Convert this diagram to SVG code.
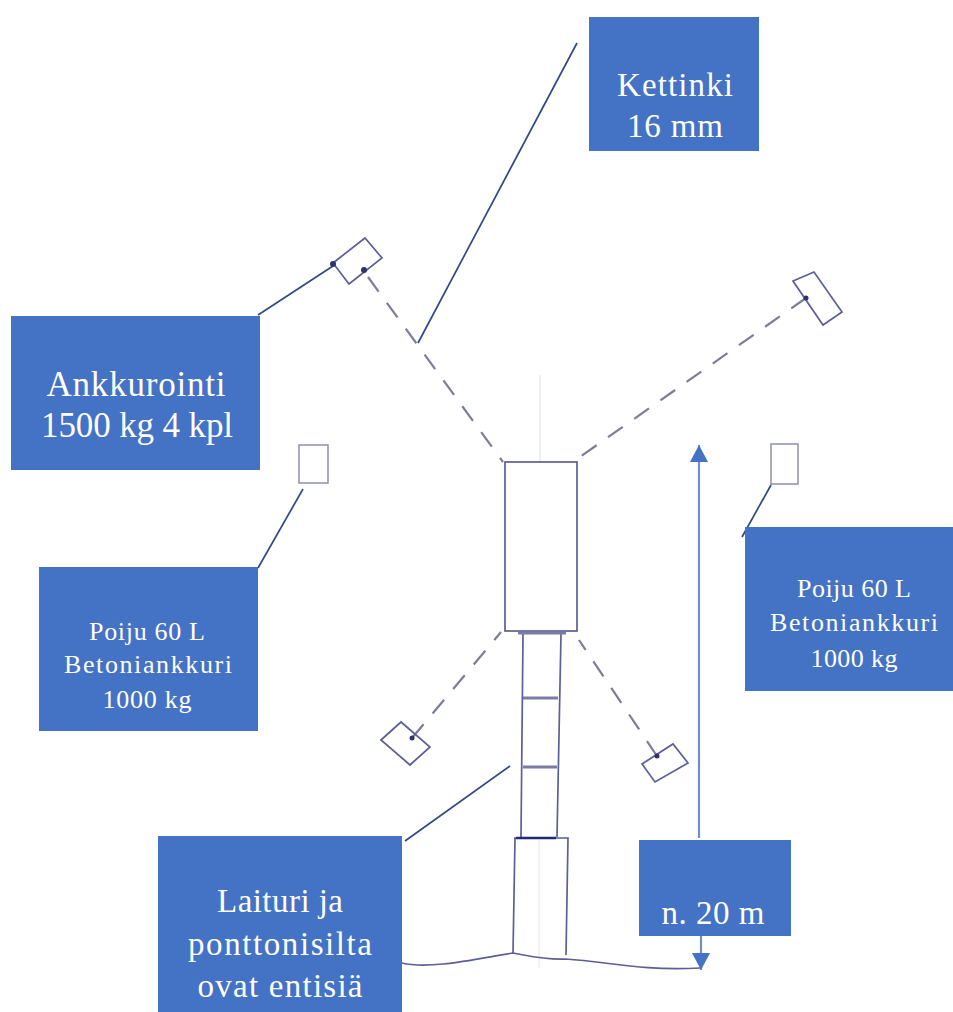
<svg xmlns="http://www.w3.org/2000/svg" width="953" height="1012" viewBox="0 0 953 1012">
<style>
.box{fill:#4472c4}
.t{font-family:"Liberation Serif",serif;fill:#fff;text-anchor:middle}
.sk{fill:none;stroke:#5c5e98;stroke-width:1.7;filter:url(#soft)}
.lt{fill:none;stroke:#8c8eb4;stroke-width:1.5;filter:url(#soft)}
.bar{fill:none;stroke:#7a7ca6;stroke-width:3;filter:url(#soft)}
.ds{fill:none;stroke:#7c7e98;stroke-width:2.2;stroke-dasharray:18 14;filter:url(#soft)}
.ld{fill:none;stroke:#2f4a85;stroke-width:1.7}
.dot{fill:#2f3170}
.ga{fill:none;stroke:#e2e2ea;stroke-width:1}
.ar{fill:none;stroke:#6f8fd0;stroke-width:2.2;marker-end:url(#ah)}
</style>
<defs>
<filter id="soft" x="-20%" y="-20%" width="140%" height="140%"><feGaussianBlur stdDeviation="0.45"/></filter>
<marker id="ah" markerWidth="18" markerHeight="18" refX="17" refY="9" orient="auto" markerUnits="userSpaceOnUse"><path d="M0 0L17 9L0 18Z" fill="#4472c4"/></marker>
</defs>
<rect width="953" height="1012" fill="#fff"/>
<g id="connectors">
<path class="ga" d="M540 375V462M539 840V968"/>
<path class="ds" d="M368 277L503 462"/>
<path class="ds" d="M806 298L577 459"/>
<path class="ds" d="M412 738L501 632"/>
<path class="ds" d="M657 756L579 640"/>
<path class="ld" d="M258 315L333 266"/>
<path class="ld" d="M577 43L418 343"/>
<path class="ld" d="M258 568L303 489"/>
<path class="ld" d="M771 485L742 537"/>
<path class="ld" d="M405 841L510 766"/>
<path class="ar" d="M699 838V445"/>
<path class="ar" d="M701 935V970"/>
<path class="sk" d="M402 963C430 970 480 958 513 953C530 956 545 960 566 959C610 962 640 971 700 968"/>
</g>
<g id="anchor-nw"><path class="sk" d="M333 263L365 238L382 258L349 284Z"/><circle class="dot" cx="333" cy="264" r="3"/><circle class="dot" cx="364" cy="270" r="3"/></g>
<g id="anchor-ne"><path class="sk" d="M793 281L814 272L842 312L823 325Z"/><circle class="dot" cx="806" cy="298" r="2.5"/></g>
<g id="anchor-sw"><path class="sk" d="M381 740L401 722L430 747L410 765Z"/><circle class="dot" cx="412" cy="738" r="2.5"/></g>
<g id="anchor-se"><path class="sk" d="M642 764L673 744L688 763L655 782Z"/><circle class="dot" cx="657" cy="756" r="2.5"/></g>
<g id="buoy-w"><rect class="lt" x="299" y="445" width="29" height="38"/></g>
<g id="buoy-e"><rect class="lt" x="771" y="444" width="27" height="40"/></g>
<g id="platform"><rect class="sk" x="505" y="462" width="72" height="169"/></g>
<g id="bridge"><path class="sk" d="M523 634L521 837M561 634L557 837"/><path class="bar" d="M518 633H566M523 698H558M523 767H557"/></g>
<g id="pier"><path class="sk" d="M514 838H568L566 955M515 838L513 953"/><path d="M516 838H556" stroke="#26287c" stroke-width="2.5"/></g>
<g id="label-kettinki"><rect class="box" x="589" y="17" width="170" height="134"/><text class="t" font-size="33" x="675" y="96" textLength="116">Kettinki</text><text class="t" font-size="33" x="675" y="137" textLength="96">16 mm</text></g>
<g id="label-ankkurointi"><rect class="box" x="11" y="316" width="249" height="154"/><text class="t" font-size="35" x="136" y="396" textLength="179">Ankkurointi</text><text class="t" font-size="35" x="137" y="437" textLength="192">1500 kg 4 kpl</text></g>
<g id="label-poiju-w"><rect class="box" x="39" y="567" width="219" height="164"/><text class="t" font-size="26" x="147" y="640" textLength="116">Poiju 60 L</text><text class="t" font-size="26" x="148" y="673" textLength="168">Betoniankkuri</text><text class="t" font-size="26" x="147" y="708" textLength="89">1000 kg</text></g>
<g id="label-poiju-e"><rect class="box" x="745" y="527" width="208" height="164"/><text class="t" font-size="26" x="854" y="597" textLength="114">Poiju 60 L</text><text class="t" font-size="26" x="854" y="631" textLength="168">Betoniankkuri</text><text class="t" font-size="26" x="854" y="667" textLength="87">1000 kg</text></g>
<g id="label-laituri"><rect class="box" x="158" y="836" width="244" height="176"/><text class="t" font-size="33" x="280" y="912" textLength="126">Laituri ja</text><text class="t" font-size="33" x="280" y="955" textLength="184">ponttonisilta</text><text class="t" font-size="33" x="280" y="997" textLength="165">ovat entisiä</text></g>
<g id="label-20m"><rect class="box" x="639" y="840" width="152" height="96"/><text class="t" font-size="33" x="713" y="924" textLength="103">n. 20 m</text></g>
</svg>
